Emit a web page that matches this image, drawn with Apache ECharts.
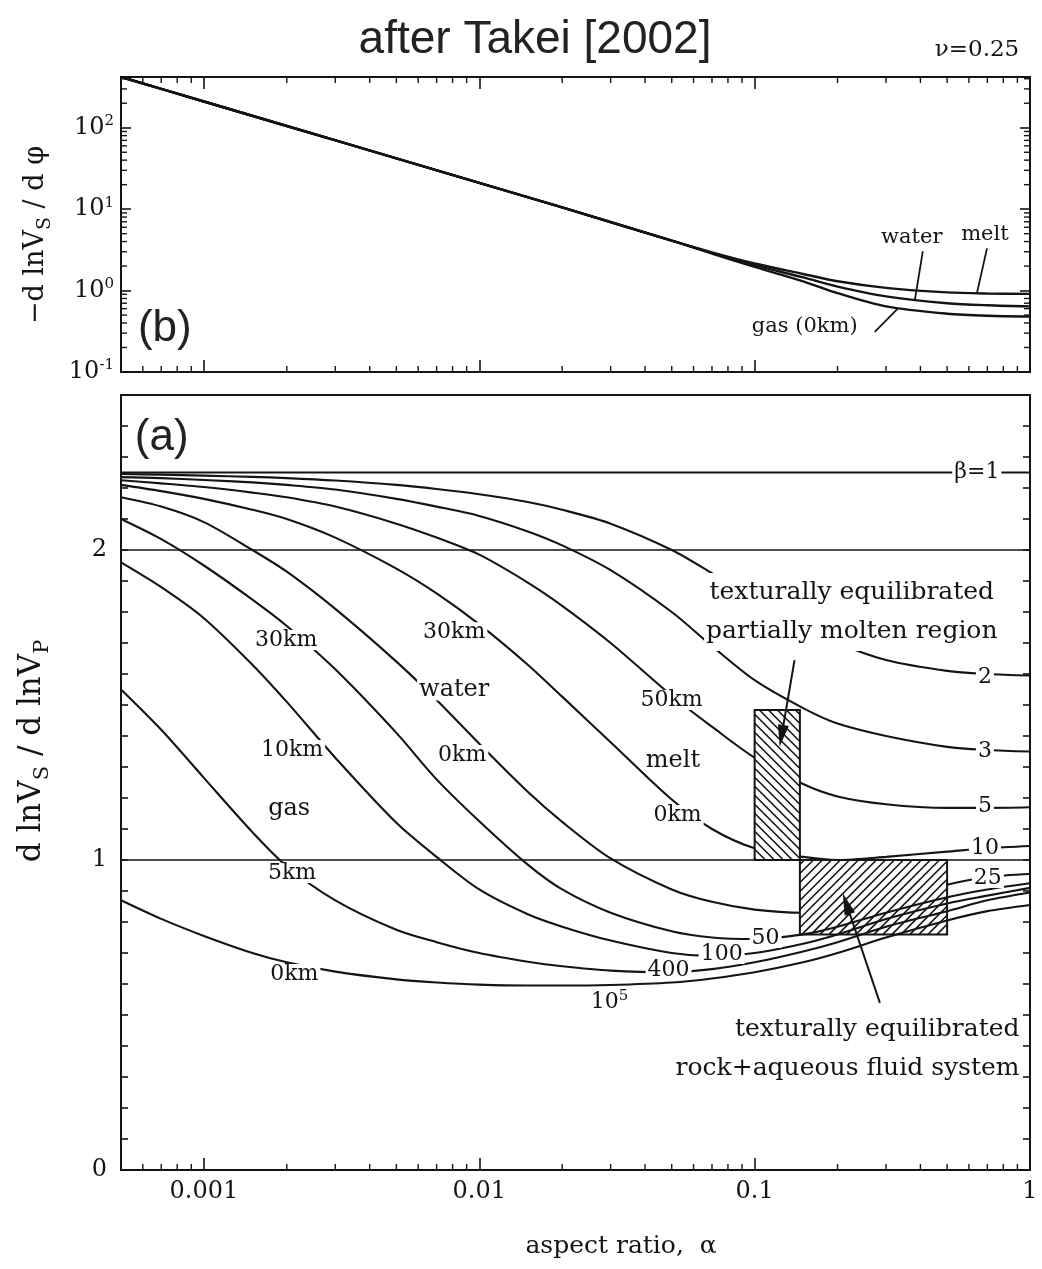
<!DOCTYPE html>
<html><head><meta charset="utf-8">
<script src="https://cdn.jsdelivr.net/npm/echarts@6/dist/echarts.min.js"></script>
<style>html,body{margin:0;padding:0;background:#fff}#c{width:1042px;height:1269px}</style>
</head><body><div id="c"></div>
<script>
// ---------------- data ----------------
// panel (a): d lnVs / d lnVp versus aspect ratio, one curve per beta
const alphaA = [0.0005,0.0007,0.001,0.0015,0.002,0.003,0.005,0.007,0.01,0.015,0.02,0.03,0.05,0.07,0.1,0.15,0.2,0.3,0.5,0.7,1];
const beta1   = [2.25,2.25,2.25,2.25,2.25,2.25,2.25,2.25,2.25,2.25,2.25,2.25,2.25,2.25,2.25,2.25,2.25,2.25,2.25,2.25,2.25];
const beta2   = [2.245,2.243,2.24,2.236,2.232,2.224,2.21,2.197,2.18,2.155,2.13,2.085,2.0,1.925,1.84,1.755,1.70,1.645,1.61,1.60,1.595];
const beta3   = [2.235,2.232,2.226,2.218,2.21,2.195,2.165,2.14,2.11,2.06,2.015,1.935,1.80,1.69,1.58,1.49,1.44,1.40,1.365,1.355,1.35];
const beta5   = [2.225,2.215,2.203,2.185,2.17,2.14,2.085,2.04,1.985,1.895,1.82,1.70,1.53,1.43,1.33,1.245,1.205,1.18,1.168,1.168,1.17];
const beta10  = [2.21,2.19,2.165,2.13,2.10,2.04,1.94,1.86,1.76,1.63,1.527,1.38,1.195,1.10,1.038,1.01,1.0,1.01,1.027,1.038,1.045];
const beta25  = [2.17,2.14,2.09,2.0,1.93,1.81,1.64,1.516,1.375,1.22,1.123,1.005,0.905,0.865,0.84,0.83,0.835,0.865,0.92,0.945,0.955];
const beta50  = [2.10,2.035,1.95,1.84,1.755,1.615,1.41,1.26,1.125,0.985,0.905,0.83,0.77,0.75,0.745,0.76,0.785,0.83,0.88,0.905,0.925];
const beta100 = [1.96,1.88,1.78,1.63,1.51,1.33,1.12,1.01,0.905,0.825,0.785,0.74,0.70,0.69,0.70,0.73,0.76,0.81,0.86,0.885,0.91];
const beta400 = [1.55,1.42,1.265,1.09,0.98,0.87,0.775,0.735,0.70,0.672,0.657,0.643,0.638,0.648,0.67,0.705,0.735,0.785,0.835,0.87,0.895];
const beta1e5 = [0.87,0.81,0.755,0.70,0.67,0.64,0.615,0.605,0.598,0.595,0.595,0.597,0.605,0.618,0.638,0.67,0.70,0.75,0.805,0.835,0.855];
const refLinesA = [1, 2];

// panel (b): -d lnVs / d phi
const alphaB = [0.0005,0.001,0.002,0.005,0.01,0.02,0.05,0.07,0.1,0.15,0.2,0.3,0.5,0.7,1];
const gasB   = [420,210,105,42,21,10.5,4.1,2.85,1.95,1.3,0.93,0.64,0.52,0.49,0.48];
const waterB = [420,210,105,42,21,10.5,4.1,2.9,2.05,1.45,1.12,0.85,0.70,0.66,0.64];
const meltB  = [420,210,105,42,21,10.5,4.1,2.95,2.15,1.6,1.3,1.08,0.95,0.92,0.91];

// hatched boxes [alphaLeft, alphaRight, yBottom, yTop]
const boxesA = [[0.1, 0.146, 1.0, 1.484], [0.146, 0.5, 0.76, 1.0]];
// arrows [alpha1, y1, alpha2, y2]
const arrowsA = [[0.1396, 1.645, 0.1233, 1.365], [0.285, 0.539, 0.209, 0.893]];
// leader lines in panel (b)
const leadersB = [[0.408, 3.03, 0.382, 0.774], [0.698, 3.30, 0.641, 0.918], [0.273, 0.312, 0.331, 0.60]];

// tick values
const xMinorTicks = [0.0006,0.0007,0.0008,0.0009,0.002,0.003,0.004,0.005,0.006,0.007,0.008,0.009,
  0.02,0.03,0.04,0.05,0.06,0.07,0.08,0.09,0.2,0.3,0.4,0.5,0.6,0.7,0.8,0.9];
const yMinorTicksB = [0.2,0.3,0.4,0.5,0.6,0.7,0.8,0.9,2,3,4,5,6,7,8,9,20,30,40,50,60,70,80,90,200,300,400];

// text annotations [text, alpha, y]
const kmLabelsA = [['30km',0.00199,1.71],['10km',0.00209,1.355],['5km',0.00209,0.958],['0km',0.00213,0.632],
  ['30km',0.00811,1.735],['0km',0.00867,1.339],['50km',0.0499,1.516],['0km',0.0525,1.145]];
const fluidLabelsA = [['gas',0.00204,1.165],['water',0.00811,1.55],['melt',0.0505,1.32]];
const betaLabelsA = [['2',0.686,1.59],['3',0.686,1.35],['5',0.686,1.174],['10',0.686,1.039],['25',0.703,0.942],
  ['β=1',0.641,2.25],['50',0.1096,0.748],['100',0.0759,0.697],['400',0.0487,0.645],['10{sup|5}',0.0297,0.54]];
const noteCenterA = [['texturally equilibrated\npartially molten region',0.2254,1.80]];
const noteRightA = [['texturally equilibrated\nrock+aqueous fluid system',0.9196,0.389]];
const panelA = [['(a)',0.000703,2.361]];
const panelB = [['(b)',0.000721,0.34]];
const fluidLabelsB = [['water',0.372,4.51],['melt',0.686,4.91],['gas (0km)',0.152,0.36]];

// ---------------- chart ----------------
const INK = '#141414';
const SERIF = '"DejaVu Serif", serif';
const SANS = '"Liberation Sans", Arial, sans-serif';
const chart = echarts.init(document.getElementById('c'));

function isPow10(v){ const e = Math.log10(v); return Math.abs(e - Math.round(e)) < 1e-6; }
function xFmt(v){ if (!isPow10(v)) return ''; return String(+Math.pow(10, Math.round(Math.log10(v))).toFixed(6)); }
function yLogFmt(v){ if (!isPow10(v)) return ''; return '10{sup|' + Math.round(Math.log10(v)) + '}'; }
function yLinFmt(v){ const r = Math.round(v); return (Math.abs(v - r) < 1e-6 && r <= 2) ? String(r) : ''; }

const tickStyle = {color: INK, width: 1.6};
function logX(grid, pos, labels){
  return {gridIndex: grid, type:'log', logBase:10, min:0.0005, max:1, position: pos,
    axisLine:{show:false}, splitLine:{show:false},
    axisTick:{show:true, inside:true, length:12, lineStyle:tickStyle},
    axisLabel: labels ? {show:true, formatter:xFmt, margin:10, fontFamily:SERIF, fontSize:24, color:INK} : {show:false}};
}
function logY(pos, labels){
  return {gridIndex:0, type:'log', logBase:10, min:0.1, max:420, position:pos,
    axisLine:{show:false}, splitLine:{show:false},
    axisTick:{show:true, inside:true, length:10, lineStyle:tickStyle},
    axisLabel: labels ? {show:true, formatter:yLogFmt, margin:7, fontFamily:SERIF, fontSize:24, color:INK,
      rich:{sup:{fontFamily:SERIF, fontSize:15, color:INK, padding:[0,0,13,0]}}} : {show:false}};
}
function linY(pos, labels){
  return {gridIndex:1, type:'value', min:0, max:2.5, interval:0.1, position:pos,
    axisLine:{show:false}, splitLine:{show:false},
    axisTick:{show:true, inside:true, length:7, lineStyle:tickStyle},
    axisLabel: labels ? {show:true, formatter:yLinFmt, margin:14, fontFamily:SERIF, fontSize:24, color:INK} : {show:false}};
}

function curveA(name, vals, z){
  return {name, type:'line', xAxisIndex:2, yAxisIndex:2, data: alphaA.map((a,i)=>[a, vals[i]]),
    smooth:0.3, symbol:'none', lineStyle:{color:INK, width:2.1}, z, silent:true};
}
function curveB(name, vals){
  return {name, type:'line', xAxisIndex:0, yAxisIndex:0, data: alphaB.map((a,i)=>[a, vals[i]]),
    smooth:0.3, symbol:'none', lineStyle:{color:INK, width:2.4}, z:2, silent:true};
}
function textSeries(xi, yi, list, lab, z){
  return {type:'scatter', xAxisIndex:xi, yAxisIndex:yi, symbolSize:1, itemStyle:{color:'rgba(0,0,0,0)', opacity:1}, silent:true, z,
    data: list.map(([t,a,y]) => ({value:[a,y], label:{formatter:t}})),
    label: Object.assign({show:true, position:'inside', color:INK, fontFamily:SERIF}, lab)};
}
function segRender(withHead){
  return function(params, api){
    const a = api.coord([api.value(0), api.value(1)]);
    const b = api.coord([api.value(2), api.value(3)]);
    const children = [];
    if (withHead){
      const dx=b[0]-a[0], dy=b[1]-a[1], L=Math.hypot(dx,dy), ux=dx/L, uy=dy/L, hl=22, hw=5.5;
      const bx=b[0]-ux*hl, by=b[1]-uy*hl;
      children.push({type:'line', shape:{x1:a[0],y1:a[1],x2:bx,y2:by}, style:{stroke:INK, lineWidth:2}});
      children.push({type:'polygon', shape:{points:[[b[0],b[1]],[bx-uy*hw,by+ux*hw],[bx+uy*hw,by-ux*hw]]}, style:{fill:INK}});
    } else {
      children.push({type:'line', shape:{x1:a[0],y1:a[1],x2:b[0],y2:b[1]}, style:{stroke:INK, lineWidth:1.8}});
    }
    return {type:'group', children};
  };
}
const hatchDirs = [-1, 1];
function boxRender(params, api){
  const p0 = api.coord([api.value(0), api.value(3)]);
  const p1 = api.coord([api.value(1), api.value(2)]);
  const x0=p0[0], y0=p0[1], x1=p1[0], y1=p1[1];
  const children = [{type:'rect', shape:{x:x0,y:y0,width:x1-x0,height:y1-y0}, style:{fill:'#fff'}}];
  const step = 9, st = {stroke:INK, lineWidth:1.6};
  if (hatchDirs[params.dataIndex] < 0){
    for (let c = y0 - x1 + step/2; c < y1 - x0; c += step){
      const xa=Math.max(x0, y0-c), xb=Math.min(x1, y1-c);
      if (xb > xa) children.push({type:'line', shape:{x1:xa,y1:xa+c,x2:xb,y2:xb+c}, style:st});
    }
  } else {
    for (let c = x0 + y0 + step/2; c < x1 + y1; c += step){
      const xa=Math.max(x0, c-y1), xb=Math.min(x1, c-y0);
      if (xb > xa) children.push({type:'line', shape:{x1:xa,y1:c-xa,x2:xb,y2:c-xb}, style:st});
    }
  }
  children.push({type:'rect', shape:{x:x0,y:y0,width:x1-x0,height:y1-y0}, style:{fill:'none', stroke:INK, lineWidth:2}});
  return {type:'group', children};
}
function xMinorRender(both){
  return function(params, api){
    const cs = params.coordSys, x = api.coord([api.value(0), 1])[0];
    const b = cs.y + cs.height, st = {stroke:INK, lineWidth:1.4};
    const ch = [{type:'line', shape:{x1:x,y1:b,x2:x,y2:b-6}, style:st}];
    if (both) ch.push({type:'line', shape:{x1:x,y1:cs.y,x2:x,y2:cs.y+6}, style:st});
    return {type:'group', children:ch};
  };
}
function yMinorRender(params, api){
  const cs = params.coordSys, y = api.coord([1, api.value(1)])[1], st = {stroke:INK, lineWidth:1.4};
  return {type:'group', children:[
    {type:'line', shape:{x1:cs.x,y1:y,x2:cs.x+6,y2:y}, style:st},
    {type:'line', shape:{x1:cs.x+cs.width,y1:y,x2:cs.x+cs.width-6,y2:y}, style:st}]};
}

const ref = curveA('β=1', beta1, 2);
ref.markLine = {silent:true, symbol:['none','none'], label:{show:false}, lineStyle:{color:INK, width:1.6, type:'solid'},
  data: refLinesA.map(v => ({yAxis:v}))};

const option = {
  animation:false,
  backgroundColor:'#fff',
  grid:[
    {left:121, top:77, width:909, height:295, show:true, borderColor:INK, borderWidth:2},
    {left:121, top:395, width:909, height:775, show:true, borderColor:INK, borderWidth:2}
  ],
  xAxis:[logX(0,'bottom',false), logX(0,'top',false), logX(1,'bottom',true)],
  yAxis:[logY('left',true), logY('right',false), linY('left',true), linY('right',false)],
  graphic:[
    {type:'text', x:535, y:40, style:{text:'after Takei [2002]', fontFamily:SANS, fontSize:46, fill:'#222', align:'center', verticalAlign:'middle'}},
    {type:'text', x:977, y:50, style:{text:'ν=0.25', fontFamily:SERIF, fontSize:23, fill:INK, align:'center', verticalAlign:'middle'}},
    {type:'text', x:36, y:235, rotation:Math.PI/2, style:{text:'−d lnV{sub|S} / d φ', fontFamily:SERIF, fontSize:27, fill:INK, align:'center', verticalAlign:'middle',
      rich:{sub:{fontFamily:SERIF, fontSize:19, fill:INK, padding:[18,0,0,0]}}}},
    {type:'text', x:32, y:751, rotation:Math.PI/2, style:{text:'d lnV{sub|S} / d lnV{sub|P}', fontFamily:SERIF, fontSize:31, fill:INK, align:'center', verticalAlign:'middle',
      rich:{sub:{fontFamily:SERIF, fontSize:21, fill:INK, padding:[22,0,0,0]}}}},
    {type:'text', x:621, y:1246, style:{text:'aspect ratio,  α', fontFamily:SERIF, fontSize:25, fill:INK, align:'center', verticalAlign:'middle'}}
  ],
  series:[
    ref,
    curveA('β=2', beta2, 2), curveA('β=3', beta3, 2), curveA('β=5', beta5, 2), curveA('β=10', beta10, 2), curveA('β=25', beta25, 2),
    curveA('β=50', beta50, 4), curveA('β=100', beta100, 4), curveA('β=400', beta400, 4), curveA('β=1e5', beta1e5, 4),
    curveB('gas', gasB), curveB('water', waterB), curveB('melt', meltB),
    {type:'custom', xAxisIndex:2, yAxisIndex:2, data:boxesA, renderItem:boxRender, z:3, silent:true},
    {type:'custom', xAxisIndex:2, yAxisIndex:2, data:arrowsA, renderItem:segRender(true), z:7, silent:true},
    {type:'custom', xAxisIndex:0, yAxisIndex:0, data:leadersB, renderItem:segRender(false), z:7, silent:true},
    {type:'custom', xAxisIndex:0, yAxisIndex:0, data:xMinorTicks.map(v=>[v,1]), renderItem:xMinorRender(true), z:5, silent:true},
    {type:'custom', xAxisIndex:2, yAxisIndex:2, data:xMinorTicks.map(v=>[v,1]), renderItem:xMinorRender(false), z:5, silent:true},
    {type:'custom', xAxisIndex:0, yAxisIndex:0, data:yMinorTicksB.map(v=>[1,v]), renderItem:yMinorRender, z:5, silent:true},
    textSeries(2,2,kmLabelsA,{fontSize:22, lineHeight:20, backgroundColor:'#fff', padding:[0,2]},6),
    textSeries(2,2,fluidLabelsA,{fontSize:24, lineHeight:22, backgroundColor:'#fff', padding:[0,2]},6),
    textSeries(2,2,betaLabelsA,{fontSize:22, lineHeight:20, backgroundColor:'#fff', padding:[0,2],
      rich:{sup:{fontFamily:SERIF, fontSize:15, color:INK, padding:[0,0,12,0]}}},6),
    textSeries(2,2,noteCenterA,{fontSize:25, lineHeight:39, align:'center', backgroundColor:'#fff', padding:[0,2]},6),
    textSeries(2,2,noteRightA,{fontSize:25, lineHeight:39, position:'left', distance:0, align:'right'},6),
    textSeries(2,2,panelA,{fontSize:44, fontFamily:SANS, color:'#222'},6),
    textSeries(0,0,panelB,{fontSize:44, fontFamily:SANS, color:'#222'},6),
    textSeries(0,0,fluidLabelsB,{fontSize:21},6)
  ]
};
chart.setOption(option);
</script></body></html>
